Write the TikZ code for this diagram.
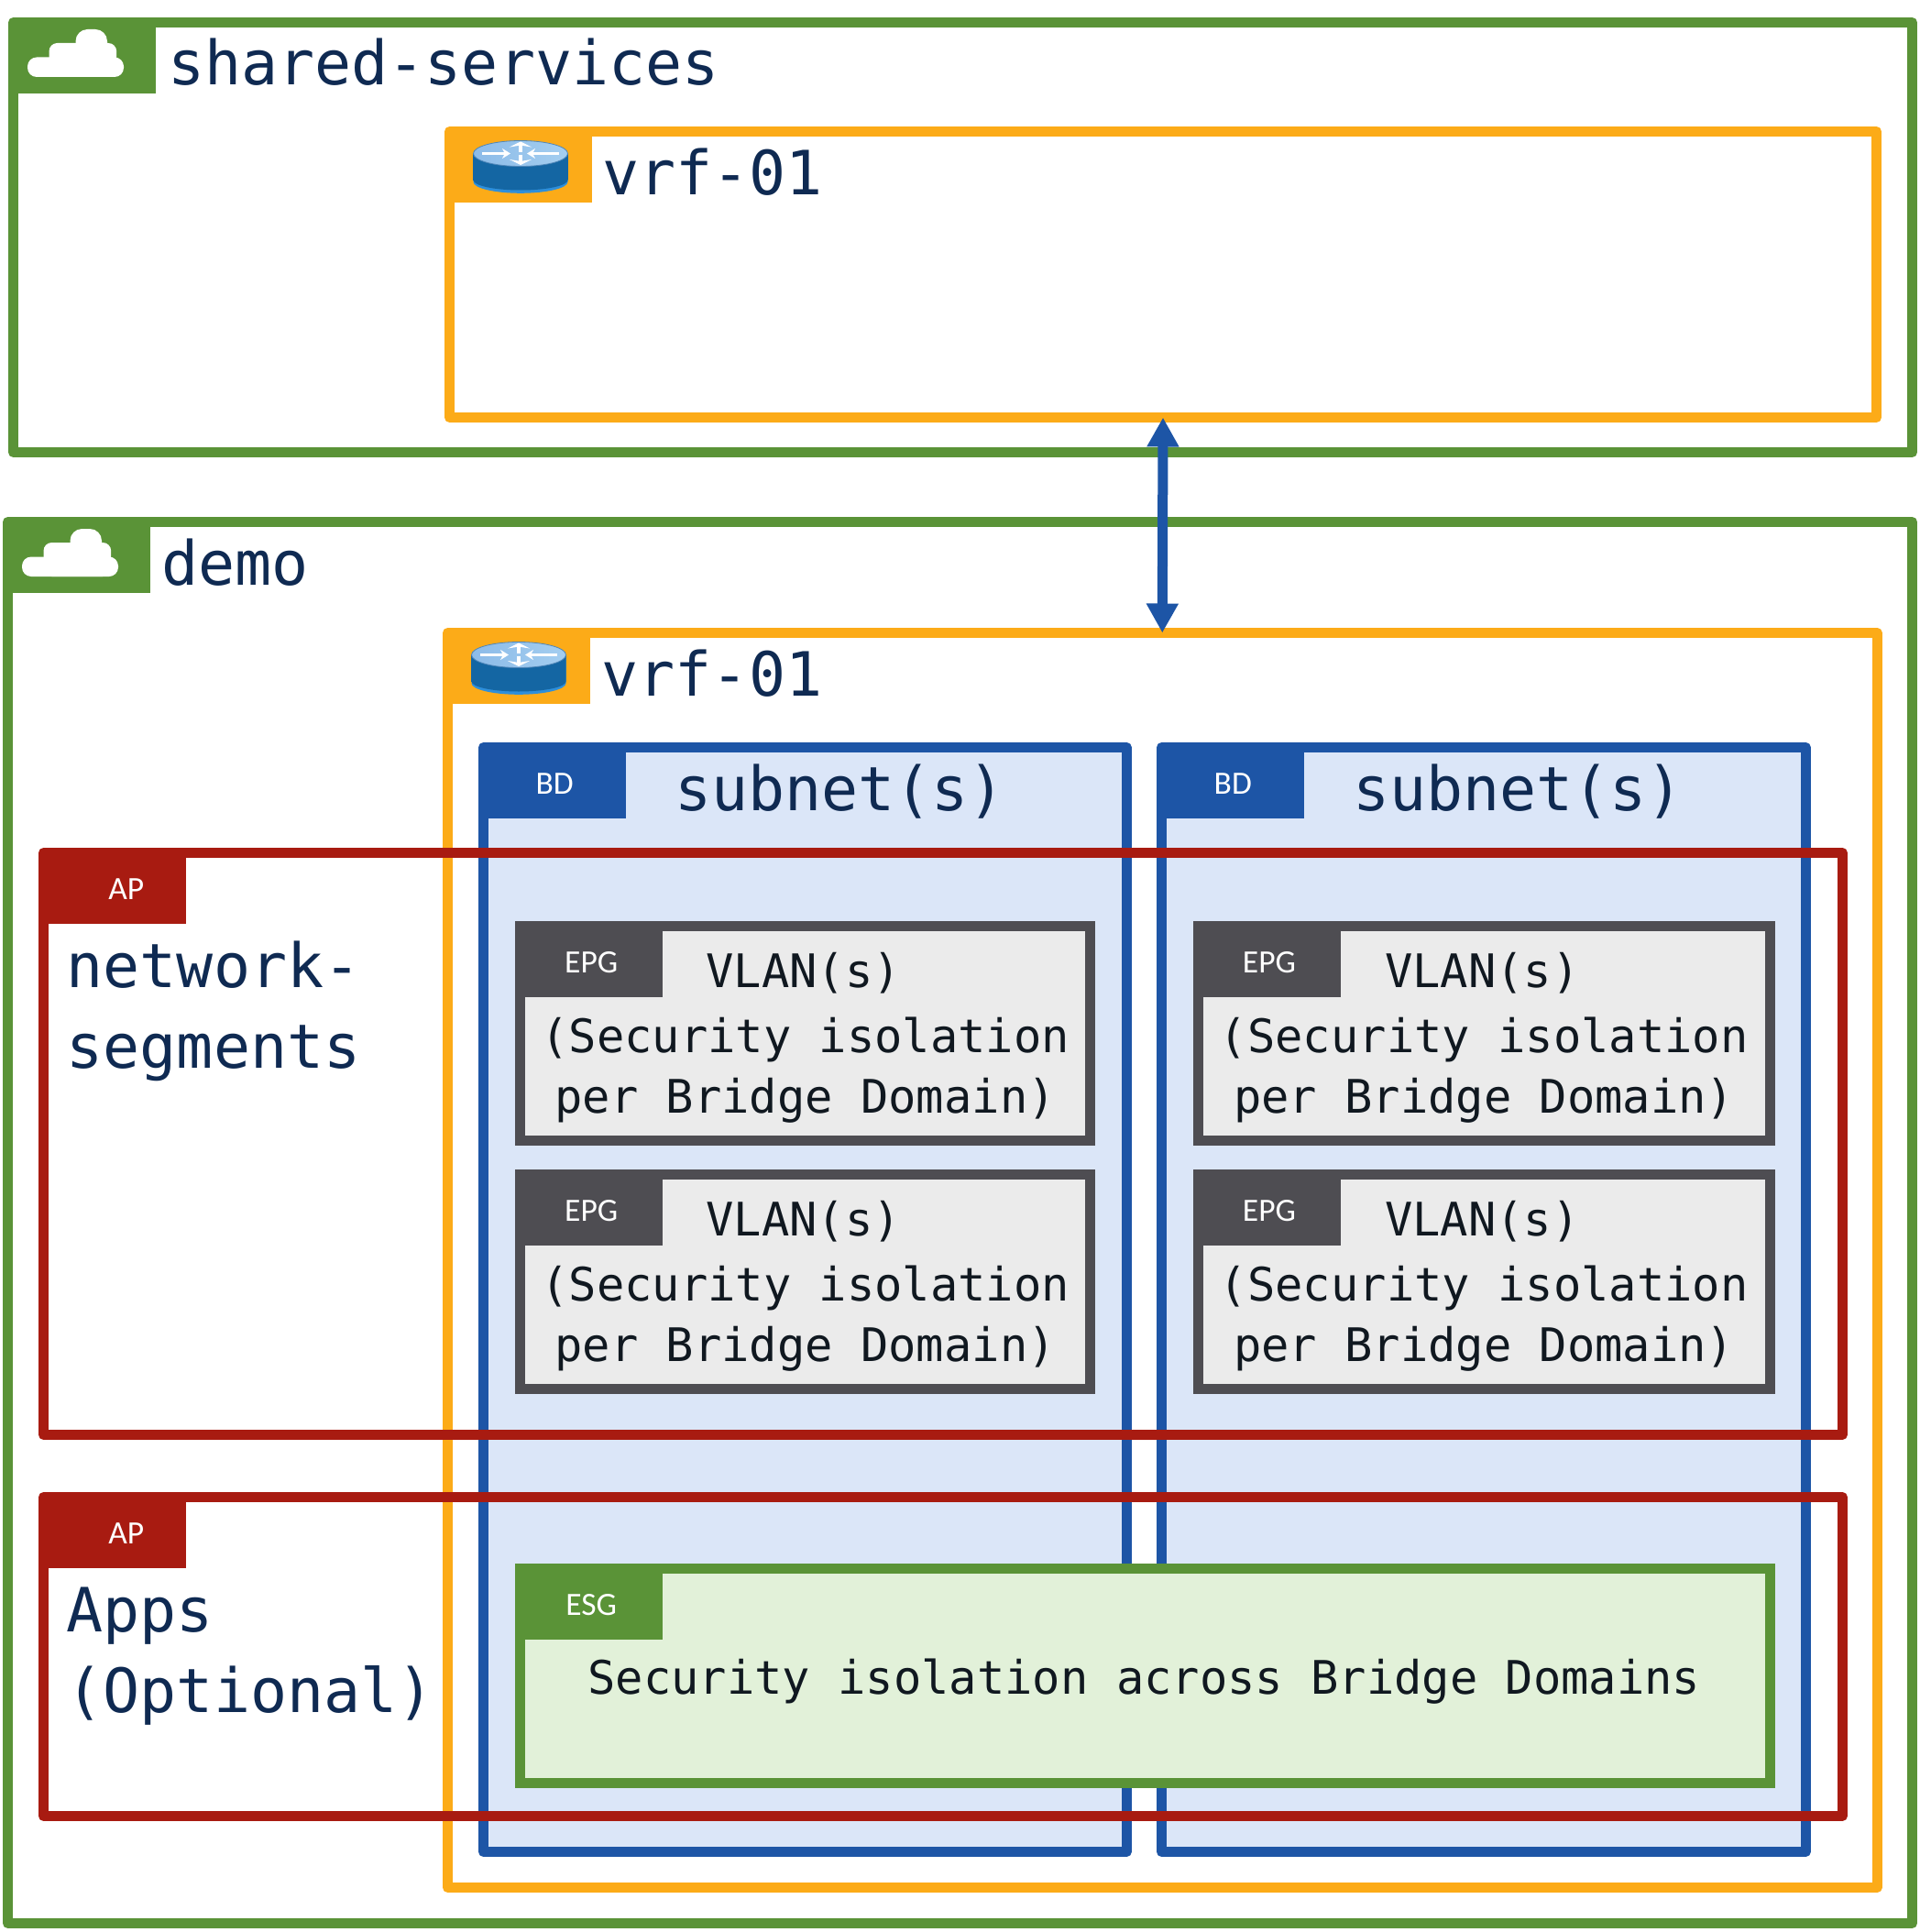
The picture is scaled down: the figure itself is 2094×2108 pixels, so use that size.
\documentclass[tikz,border=0pt]{standalone}
\usepackage{fontspec}
\usepackage{xcolor}
\usepackage{tikz}
\usetikzlibrary{arrows.meta,calc}
\newfontfamily\monofont{DejaVu Sans Mono}
\newfontfamily\tabfont{Carlito}
\definecolor{tenantgreen}{HTML}{5A9337}
\definecolor{vrforange}{HTML}{FCAB18}
\definecolor{bdblue}{HTML}{1D55A6}
\definecolor{bdfill}{HTML}{DBE6F8}
\definecolor{apred}{HTML}{A81B11}
\definecolor{epggray}{HTML}{4E4D52}
\definecolor{epgfill}{HTML}{EBEBEB}
\definecolor{esgfill}{HTML}{E2F1D9}
\definecolor{titlenavy}{HTML}{0F2A52}
\definecolor{bodyblack}{HTML}{101820}
\definecolor{routerdark}{HTML}{1466A3}
\definecolor{routermid}{HTML}{2A85CC}
\definecolor{routerrim}{HTML}{2E8FDA}
\definecolor{routertopa}{HTML}{8CBBE8}
\definecolor{routertopb}{HTML}{A4CEF0}
\definecolor{routeredge}{HTML}{4F86B8}

\tikzset{
  cloudicon/.pic={
    \fill [white, rounded corners=10pt] (15.5,38) rectangle (120.5,59.5);
    \fill [white, rounded corners=9pt] (39,22.5) rectangle (112.7,59.5);
    \fill [white, rounded corners=13pt] (68,7.5) rectangle (102.5,50);
  },
  routericon/.pic={
    \fill [routerrim] (-51.5,0) -- (-51.5,31) arc [start angle=180, end angle=360, x radius=51.5pt, y radius=12.3pt] -- (51.5,0) -- cycle;
    \shade [left color=routerdark, middle color=routermid, right color=routerdark] (-51.5,0) -- (-51.5,29) arc [start angle=180, end angle=360, x radius=51.5pt, y radius=11pt] -- (51.5,0) -- cycle;
    \shade [left color=routertopa, right color=routertopb, draw=routeredge, line width=0.8pt] (0,0) ellipse [x radius=51.5pt, y radius=14pt];
    \draw [white, line width=2.5pt, -{Stealth[length=9pt,width=11pt]}] (-42,0) -- (-11,0);
    \draw [white, line width=2.5pt, -{Stealth[length=9pt,width=11pt]}] (42,0) -- (7,0);
    \draw [white, line width=4pt, -{Stealth[length=6pt,width=24pt]}] (0,-1.5) -- (0,-13);
    \draw [white, line width=4pt, -{Stealth[length=6pt,width=24pt]}] (0,1.5) -- (0,12.5);
  }
}

\begin{document}
\begin{tikzpicture}[x=1pt, y=-1pt]
    % Define styles
    \tikzstyle{frame} = [rectangle, anchor=north west, inner sep=0pt, outer sep=0pt, line width=11pt]
    \tikzstyle{tenant} = [frame, line join=round, draw=tenantgreen]
    \tikzstyle{vrf} = [frame, line join=round, draw=vrforange]
    \tikzstyle{bd} = [frame, line join=round, draw=bdblue, fill=bdfill]
    \tikzstyle{ap} = [frame, line join=round, draw=apred]
    \tikzstyle{epg} = [frame, draw=epggray, fill=epgfill]
    \tikzstyle{esg} = [frame, draw=tenantgreen, fill=esgfill]
    \tikzstyle{tab} = [rectangle, anchor=north west, inner sep=0pt, outer sep=0pt, minimum width=155.5pt, minimum height=79pt, text=white, font=\tabfont\fontsize{35.5}{35.5}\selectfont]
    \tikzstyle{tabfill} = [tab, minimum height=77.5pt]
    \tikzstyle{title} = [anchor=base west, inner sep=0pt, text=titlenavy, font=\monofont\fontsize{66.6}{88}\selectfont]
    \tikzstyle{aptext} = [title, align=left]
    \tikzstyle{small} = [anchor=base, inner sep=0pt, text=bodyblack, font=\monofont\fontsize{50.4}{66}\selectfont]
    \tikzstyle{body} = [small, align=center]
    \tikzstyle{arrow} = [line width=11pt, bdblue, {Triangle[length=32pt,width=33pt]}-{Triangle[length=32pt,width=33pt]}]

    \path [use as bounding box, fill=white] (0,0) rectangle (2094,2108);

    % Tenants
    \node (shared) [tenant, minimum width=2072pt, minimum height=469pt] at (14.5,24.5) {};
    \node (sharedtab) [tabfill, fill=tenantgreen] at (shared.north west) {};
    \pic at (sharedtab.north west) {cloudicon};
    \node (sharedname) [title] at (183,93) {shared-services};

    \node (vrfa) [vrf, minimum width=1557pt, minimum height=312pt] at (490.5,143.5) {};
    \node (vrfatab) [tabfill, fill=vrforange] at (vrfa.north west) {};
    \pic at ($(vrfa.north west)+(77.5,24)$) {routericon};
    \node (vrfaname) [title] at (657,213) {vrf-01};

    \node (demo) [tenant, minimum width=2078pt, minimum height=1529pt] at (8.5,569.5) {};
    \node (demotab) [tabfill, fill=tenantgreen] at (demo.north west) {};
    \pic at (demotab.north west) {cloudicon};
    \node (demoname) [title] at (176.5,638) {demo};

    \node (vrfb) [vrf, minimum width=1559.5pt, minimum height=1369pt] at (488.5,690.5) {};
    \node (vrfbtab) [tabfill, fill=vrforange] at (vrfb.north west) {};
    \pic at ($(vrfb.north west)+(77.5,24)$) {routericon};
    \node (vrfbname) [title] at (656.5,759) {vrf-01};

    % Bridge domains
    \node (bda) [bd, minimum width=701.7pt, minimum height=1205pt] at (527.5,815.5) {};
    \node (bdatab) [tabfill, fill=bdblue] at (bda.north west) {};
    \node (bdatext) [tab] at (bda.north west) {BD};
    \node (bdaname) [title] at (736,884) {subnet(s)};

    \node (bdb) [bd, minimum width=702.7pt, minimum height=1205pt] at (1267.5,815.5) {};
    \node (bdbtab) [tabfill, fill=bdblue] at (bdb.north west) {};
    \node (bdbtext) [tab] at (bdb.north west) {BD};
    \node (bdbname) [title] at (1476,884) {subnet(s)};

    % EPGs
    \node (epga) [epg, minimum width=622.3pt, minimum height=234pt] at (567.5,1010.5) {};
    \node (epgatab) [tabfill, fill=epggray] at (epga.north west) {};
    \node (epgatext) [tab] at (epga.north west) {EPG};
    \node (epgavlan) [small] at ($(epga.north)+(-2,66.5)$) {VLAN(s)};
    \node (epgabody) [body] at ($(epga.south)+(0,-30.5)$) {(Security isolation\\per Bridge Domain)};

    \node (epgb) [epg, minimum width=622.3pt, minimum height=234pt] at (567.5,1281.5) {};
    \node (epgbtab) [tabfill, fill=epggray] at (epgb.north west) {};
    \node (epgbtext) [tab] at (epgb.north west) {EPG};
    \node (epgbvlan) [small] at ($(epgb.north)+(-2,66.5)$) {VLAN(s)};
    \node (epgbbody) [body] at ($(epgb.south)+(0,-30.5)$) {(Security isolation\\per Bridge Domain)};

    \node (epgc) [epg, minimum width=624pt, minimum height=234pt] at (1307.2,1010.5) {};
    \node (epgctab) [tabfill, fill=epggray] at (epgc.north west) {};
    \node (epgctext) [tab] at (epgc.north west) {EPG};
    \node (epgcvlan) [small] at ($(epgc.north)+(-2,66.5)$) {VLAN(s)};
    \node (epgcbody) [body] at ($(epgc.south)+(0,-30.5)$) {(Security isolation\\per Bridge Domain)};

    \node (epgd) [epg, minimum width=624pt, minimum height=234pt] at (1307.2,1281.5) {};
    \node (epgdtab) [tabfill, fill=epggray] at (epgd.north west) {};
    \node (epgdtext) [tab] at (epgd.north west) {EPG};
    \node (epgdvlan) [small] at ($(epgd.north)+(-2,66.5)$) {VLAN(s)};
    \node (epgdbody) [body] at ($(epgd.south)+(0,-30.5)$) {(Security isolation\\per Bridge Domain)};

    % Application profiles
    \node (apa) [ap, minimum width=1962.7pt, minimum height=635pt] at (47.5,930.5) {};
    \node (apatab) [tabfill, fill=apred] at (apa.north west) {};
    \node (apatext) [tab] at (apa.north west) {\hspace*{25pt}AP};
    \node (apaname) [aptext] at (72.5,1165) {network-\\segments};

    \node (apb) [ap, minimum width=1962.7pt, minimum height=348pt] at (47.5,1633.5) {};
    \node (apbtab) [tabfill, fill=apred] at (apb.north west) {};
    \node (apbtext) [tab] at (apb.north west) {\hspace*{25pt}AP};
    \node (apbname) [aptext] at (72.5,1868) {Apps\\(Optional)};

    % ESG
    \node (esga) [esg, minimum width=1363.7pt, minimum height=234pt] at (567.5,1711.5) {};
    \node (esgatab) [tabfill, fill=tenantgreen] at (esga.north west) {};
    \node (esgatext) [tab] at (esga.north west) {ESG};
    \node (esgabody) [small] at (1248.4,1848) {Security isolation across Bridge Domains};

    % Arrows
    \draw [arrow] (vrfa.south) -- (vrfb.north);
\end{tikzpicture}
\end{document}
